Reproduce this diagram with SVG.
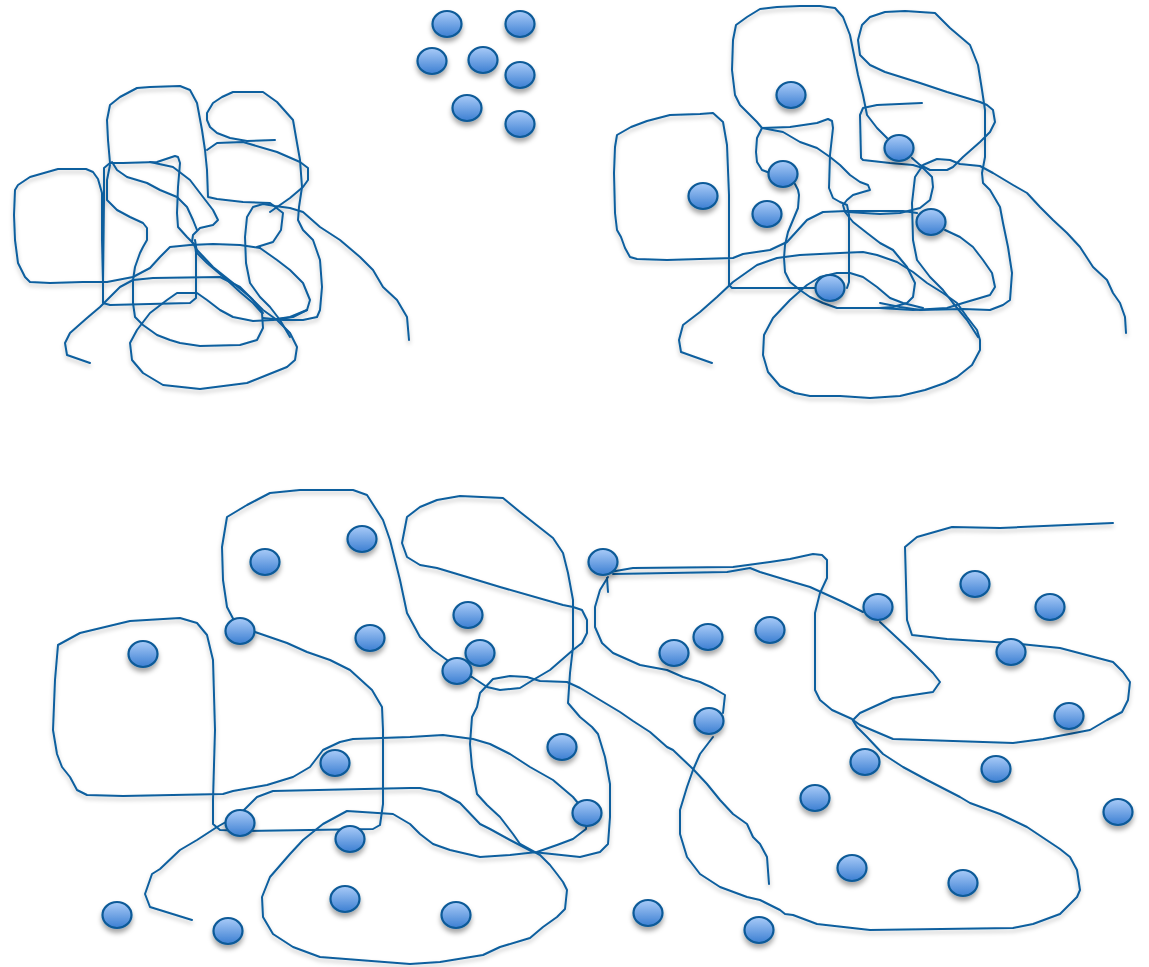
<svg xmlns="http://www.w3.org/2000/svg" width="1149" height="967" viewBox="0 0 1149 967">
<style>
.ln{fill:none;stroke:#0b5e9e;stroke-width:2;stroke-linejoin:round;stroke-linecap:round}
.dot{fill:url(#dg);stroke:#0b5a98;stroke-width:2.2}
</style>
<defs>
<linearGradient id="dg" x1="0" y1="0" x2="0" y2="1">
<stop offset="0" stop-color="#a9cbf8"/>
<stop offset="1" stop-color="#3c7fd2"/>
</linearGradient>
<filter id="sh" x="-10%" y="-10%" width="120%" height="130%">
<feDropShadow dx="0" dy="3" stdDeviation="2" flood-color="#000" flood-opacity="0.25"/>
</filter>
<filter id="dsh" x="-40%" y="-40%" width="180%" height="200%">
<feDropShadow dx="0" dy="4" stdDeviation="2.5" flood-color="#000" flood-opacity="0.35"/>
</filter>
<ellipse id="d" rx="14.5" ry="13" class="dot"/>
</defs>

<g id="scribble-top-left" class="ln" filter="url(#sh)">
<path d="M103,283 L102,240 102,193 98,179 93,172 86,169 58,169 30,177 18,185 15,190 14,215 15,240 18,263 25,277 30,282 50,283 83,282 107,282 133,277 150,268 160,257 170,247 190,245 213,244 240,245 260,248"/>
<path d="M104,200 L104,168 110,163 123,163 157,162 175,156 178,157 180,163 178,187 177,213 178,227 187,237 195,245 196,253 196,298 190,303 110,305 103,303 103,283 104,200"/>
<path d="M110,163 L108,140 107,120 110,105 120,97 137,88 150,87 180,86 190,90 197,103 202,130 205,150 207,170 208,197 217,199 243,202 270,203 283,213 281,230 273,242 257,247"/>
<path d="M275,140 L247,141 230,138 217,133 210,127 207,120 207,113 213,103 222,97 233,92 263,92 277,102 293,120 297,143 300,160 302,187 299,207 298,220 303,230 313,240 320,260 322,287 320,310 317,317 303,320 283,320 263,318"/>
<path d="M207,150 L217,143 243,142 277,152 300,162 308,168 308,180 303,187 290,198 280,205 270,212"/>
<path d="M290,337 L280,320 270,307 260,297 250,283 246,263 245,237 247,217 253,207 263,204 275,206 290,208 303,212 320,227 340,240 360,257 373,270 383,287 397,300 407,317 409,340"/>
<path d="M260,248 L277,260 290,270 303,283 310,300 307,310 290,317 270,320"/>
<path d="M110,165 L107,180 107,200 117,210 130,217 143,223 147,228 147,240 143,247 140,253 135,267 133,280 133,303 135,317 143,325 157,335 170,340 180,343 200,346 240,345 257,340 263,328 262,313 253,303 240,292 227,280 207,263 197,253 195,240"/>
<path d="M112,162 L117,170 127,177 147,183 160,190 177,197 187,207 193,220 197,230"/>
<path d="M150,162 L173,167 190,180 203,197 213,210 218,220 213,225 200,228 193,235 192,242 197,250 213,267 233,283 250,297 263,310 277,320 290,333 297,347 295,360 287,367 267,375 247,383 200,389 163,385 143,373 132,360 130,343 137,330 150,313 167,300 177,293 197,293 207,300 220,310 233,317 253,321 273,320 293,317 307,310"/>
<path d="M90,363 L67,355 65,343 70,333 87,318 100,307 120,287 133,280 153,278 220,277 240,287 253,300 263,313"/>
</g>

<g id="scribble-top-right" class="ln" filter="url(#sh)">
<path d="M817,288 L732,288 729,285 729,195 727,145 723,122 713,113 700,114 670,115 647,121 631,127 617,135 615,147 614,173 615,213 617,230 621,237 625,248 630,257 637,259 667,260 700,259 733,258 743,254 770,250 787,242 807,220 823,212 847,211 903,211 917,213"/>
<path d="M887,138 L877,128 867,115 863,95 858,75 854,55 850,35 843,17 835,8 820,6 800,6 777,7 760,9 747,17 736,25 733,40 732,70 735,95 740,105 750,115 757,122 762,128 790,127 817,123 828,119 832,121 833,128 830,155 829,188 833,198 840,202 847,205 849,215 849,245 849,282 847,288"/>
<path d="M762,128 L757,138 756,152 757,162 762,170 770,173"/>
<path d="M795,184 L798,190 799,195 798,208 793,220 788,232 785,245 784,258 785,272 790,282 800,290 810,297 823,303 837,308 863,308 880,308 893,307 907,303 913,297 915,283 907,267 893,250 880,243 867,233 853,222 845,212 843,205 847,200 853,195 863,192 870,190 868,185 860,182 850,175 840,165 830,157 817,148 800,142 783,132 762,128"/>
<path d="M922,103 L877,105 863,108 860,115 861,158 863,160 890,163 913,165 923,168 932,177 933,187 930,200 920,208 900,213 880,214 847,212"/>
<path d="M912,158 L920,165 930,170 947,170 953,167 963,157 980,142 990,132 995,122 993,110 987,105 980,102 947,92 920,83 885,72 870,65 860,55 858,40 862,25 870,17 885,12 905,11 935,13 950,28 970,45 978,65 982,90 985,110 985,157 982,173 983,183 990,190 1000,207 1003,223 1008,247 1012,273 1010,300 1003,305 990,310 963,309 920,310 900,307 880,303"/>
<path d="M978,337 L967,320 953,303 943,290 930,277 917,260 913,240 912,203 915,177 923,165 937,159 950,160 960,164 980,166 993,173 1013,185 1027,193 1040,207 1053,220 1067,233 1080,247 1093,267 1107,280 1113,293 1120,303 1125,317 1126,333"/>
<path d="M945,230 L960,237 973,247 983,260 992,273 995,287 990,295 980,298 963,303 947,308 913,310 880,308"/>
<path d="M712,363 L695,357 681,352 679,340 683,325 700,312 717,297 733,282 757,265 777,258 800,255 840,253 863,252 877,255 897,262 913,272 927,283 943,293 957,303 967,317 977,330 980,340 980,350 972,365 957,377 945,383 925,390 900,396 870,398 840,396 810,396 795,393 780,386 768,372 763,355 764,335 773,318 790,300 807,285 820,277 837,273 850,273 863,277 877,287 890,298 903,303 923,308"/>
</g>

<g id="connectors" class="ln" filter="url(#sh)">
<path d="M240,632 L227,607 223,580 222,547 227,517 247,505 270,493 300,490 353,490 367,495 383,520 390,540 400,580 407,613 420,637 433,650 447,660 457,671"/>
<path d="M457,671 L472,677 487,687 500,690 520,688 533,680 550,670 573,650 582,643 587,633 587,620 582,610 573,607 563,605 500,587 467,577 437,568 420,565 407,557 402,543 407,517 420,507 437,500 460,496 503,498 520,512 553,538 563,553 568,573 573,600 573,647 570,673 568,703 580,717 592,727 598,734 605,757 610,784 610,817 608,844 600,852 580,857 533,852 510,840 490,829 480,824 460,803 440,792 420,788 410,788 273,791 257,797 240,814 217,827 197,840 180,850 160,869 152,874 145,894 150,907 192,920"/>
<path d="M240,632 L255,632 287,643 307,652 330,660 350,670 372,690 382,707 383,730 383,804 380,825 373,829 247,831 220,830 213,824 213,800 215,730 213,660 207,635 197,623 180,618 130,621 80,633 58,645 55,680 53,730 57,754 62,767 70,777 77,790 87,795 123,796 223,794 233,791 267,785 293,777 310,767 323,750 340,742 353,739 410,737 443,735 473,739 490,744 510,754 530,767 553,780 573,797 587,814"/>
<path d="M587,814 L586,829 573,839 557,845 537,852 510,855 480,857 450,850 433,844 420,834 410,824 393,814 347,811 323,824 303,840 290,854 270,877 262,897 263,917 273,934 293,947 320,957 410,964 440,962 483,955 500,947 530,938 543,927 557,917 565,909 567,890 563,882 557,874 550,865 540,855 520,844 513,834 500,817 487,805 477,794 472,767 470,744 472,717 477,707 480,693 493,679 510,676 527,677 540,681 567,682 580,688 600,700 620,712 633,721 650,732 667,747 673,750 693,769 707,784 720,800 733,814 747,824 753,837 760,844 767,857 769,884"/>
<path d="M610,572 L633,568 733,567 770,562 790,559 813,554 822,555 827,560 827,578 820,593 815,613 815,690 820,700 832,710 852,719 857,727 867,737 883,754 903,767 927,780 960,797 970,803 1000,814 1027,827 1060,849 1070,857 1077,870 1080,890 1077,897 1060,914 1033,924 1013,928 870,930 817,924 793,915 785,914 780,910 760,900 747,897 720,887 700,874 687,857 680,834 680,810 687,787 693,770 700,754 713,737"/>
<path d="M613,574 L727,572 750,568 760,572 793,582 810,587 843,602 863,612"/>
<path d="M880,622 L910,650 933,673 940,682 933,692 893,698 860,713 853,720 860,725 893,739 1013,743 1043,739 1090,730 1107,720 1122,712 1128,700 1130,682 1123,672 1113,662 1060,648 1010,643 947,639 912,635 907,620 905,547 917,537 952,527 1000,528 1113,523"/>
<path d="M608,577 L600,590 595,607 595,627 602,643 613,653 640,665 667,670 683,677 700,682 713,688 725,695 723,713"/>
<path d="M607,578 L608,592"/>
</g>

<g id="dots-top" filter="url(#dsh)">
<use href="#d" x="447" y="24"/><use href="#d" x="520" y="24"/><use href="#d" x="432" y="61"/><use href="#d" x="483" y="60"/><use href="#d" x="520" y="75"/><use href="#d" x="467" y="108"/><use href="#d" x="520" y="124"/>
</g>
<g id="dots-top-right" filter="url(#dsh)">
<use href="#d" x="791" y="95"/><use href="#d" x="899" y="148"/><use href="#d" x="703" y="196"/><use href="#d" x="783" y="174"/><use href="#d" x="767" y="214"/><use href="#d" x="931" y="222"/><use href="#d" x="830" y="288"/>
</g>
<g id="dots-bottom" filter="url(#dsh)">
<use href="#d" x="265" y="562"/><use href="#d" x="362" y="539"/><use href="#d" x="603" y="562"/><use href="#d" x="468" y="615"/><use href="#d" x="240" y="631"/><use href="#d" x="370" y="638"/><use href="#d" x="143" y="654"/><use href="#d" x="480" y="653"/><use href="#d" x="457" y="671"/><use href="#d" x="674" y="653"/><use href="#d" x="708" y="637"/><use href="#d" x="770" y="630"/><use href="#d" x="878" y="607"/><use href="#d" x="975" y="584"/><use href="#d" x="1050" y="607"/><use href="#d" x="1011" y="652"/><use href="#d" x="709" y="721"/><use href="#d" x="1069" y="716"/><use href="#d" x="562" y="747"/><use href="#d" x="335" y="763"/><use href="#d" x="865" y="762"/><use href="#d" x="996" y="769"/><use href="#d" x="815" y="798"/><use href="#d" x="587" y="813"/><use href="#d" x="1118" y="812"/><use href="#d" x="240" y="823"/><use href="#d" x="350" y="839"/><use href="#d" x="852" y="868"/><use href="#d" x="963" y="883"/><use href="#d" x="345" y="899"/><use href="#d" x="117" y="915"/><use href="#d" x="456" y="915"/><use href="#d" x="648" y="913"/><use href="#d" x="228" y="931"/><use href="#d" x="759" y="930"/>
</g>
</svg>
